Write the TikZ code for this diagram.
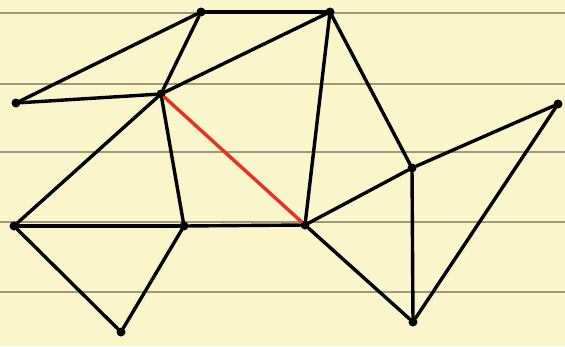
\documentclass[tikz,border=0pt]{standalone}
\usetikzlibrary{positioning}
\definecolor{paper}{RGB}{250,245,203}
\definecolor{rule}{RGB}{160,152,122}
\definecolor{cut}{RGB}{232,48,36}

\begin{document}
\begin{tikzpicture}[
  x=1pt, y=-1pt,
  vertex/.style={circle, fill=black, inner sep=0pt, minimum size=9pt},
  edge/.style={line width=3.4pt, line cap=round},
  cutedge/.style={edge, draw=cut},
  ruling/.style={draw=rule, line width=1.3pt}
]
\fill[paper] (0,0) rectangle (565,346);
\useasboundingbox (0,0) rectangle (565,346);
\foreach \y in {13,84,152,222,292}
  \draw[ruling] (0,\y) -- (565,\y);

\node[vertex] (top1) at (201,12) {};
\node[vertex] (top2) at (330,12) {};
\node[vertex] (left1) at (16,103) {};
\node[vertex] (hub) at (161,94) {};
\node[vertex] (far) at (558,104) {};
\node[vertex] (mid) at (412,168) {};
\node[vertex] (left2) at (14,226) {};
\node[vertex] (low1) at (184,226) {};
\node[vertex] (low2) at (305,225) {};
\node[vertex] (bot1) at (121,332) {};
\node[vertex] (bot2) at (413,322) {};

\draw[edge] (top1) -- (top2);
\draw[edge] (top1) -- (left1);
\draw[edge] (top1) -- (hub);
\draw[edge] (left1) -- (hub);
\draw[edge] (hub) -- (top2);
\draw[edge] (top2) -- (low2);
\draw[edge] (top2) -- (mid);
\draw[edge] (hub) -- (left2);
\draw[edge] (hub) -- (low1);
\draw[cutedge] (hub) -- (low2);
\draw[edge] (left2) -- (low1);
\draw[edge] (low1) -- (low2);
\draw[edge] (left2) -- (bot1);
\draw[edge] (low1) -- (bot1);
\draw[edge] (low2) -- (mid);
\draw[edge] (mid) -- (far);
\draw[edge] (far) -- (bot2);
\draw[edge] (mid) -- (bot2);
\draw[edge] (low2) -- (bot2);
\end{tikzpicture}
\end{document}
